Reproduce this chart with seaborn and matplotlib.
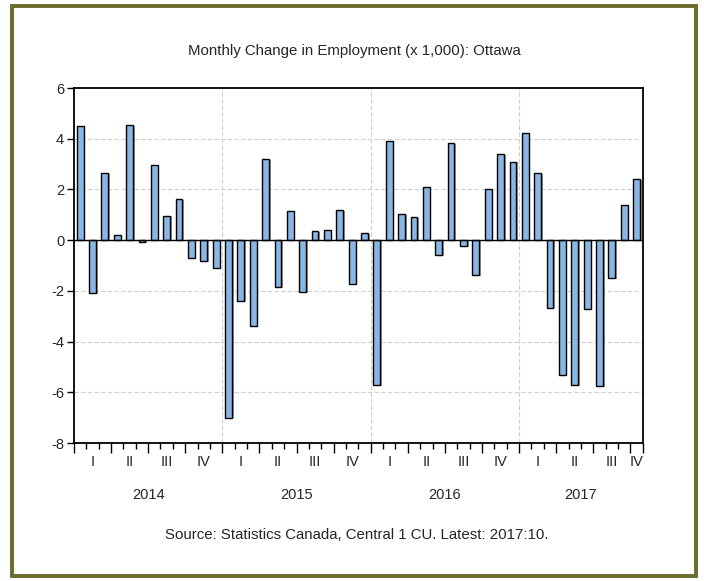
import matplotlib
matplotlib.use('Agg')
import matplotlib.pyplot as plt
import matplotlib.patheffects as pe
import matplotlib.transforms as mtransforms
from matplotlib.patches import Rectangle
import seaborn as sns
import pandas as pd
import numpy as np

# monthly change in employment, 2014:01 .. 2017:10 (thousands)
years = ['2014', '2015', '2016', '2017']
months_per_year = [12, 12, 12, 10]
quarters = ['I', 'II', 'III', 'IV']
change_2014 = [4.5, -2.1, 2.65, 0.2, 4.55, -0.07, 2.95, 0.97, 1.62, -0.69, -0.82, -1.08]
change_2015 = [-7.0, -2.4, -3.38, 3.2, -1.84, 1.15, -2.04, 0.37, 0.42, 1.19, -1.71, 0.29]
change_2016 = [-5.71, 3.92, 1.03, 0.92, 2.1, -0.59, 3.82, -0.22, -1.39, 2.01, 3.41, 3.1]
change_2017 = [4.24, 2.65, -2.66, -5.33, -5.71, -2.71, -5.76, -1.5, 1.39, 2.41]

values = change_2014 + change_2015 + change_2016 + change_2017
df = pd.DataFrame({'month': range(len(values)), 'change': values})

sns.set_style('white')
plt.rcParams['font.family'] = ['Liberation Sans', 'DejaVu Sans']
plt.rcParams['axes.unicode_minus'] = False

fig = plt.figure(figsize=(7.04, 5.81), dpi=100)
ax = fig.add_axes([0.105, 0.2375, 0.808, 0.611])

sns.barplot(data=df, x='month', y='change', color='#8ab6e4', saturation=1,
            width=0.55, edgecolor='black', linewidth=1.0, ax=ax)
for p in ax.patches:
    p.set_path_effects([pe.SimplePatchShadow(offset=(1.2, -0.6), shadow_rgbFace='#555555', alpha=0.6),
                        pe.Normal()])

n = len(values)
ax.set_xlim(-0.5, n - 0.5)
ax.set_ylim(-8, 6)
ax.set_yticks(range(-8, 7, 2))
ax.set_xlabel('')
ax.set_ylabel('')

# grid: horizontal dashed at y ticks, vertical dashed at year boundaries
for yv in range(-6, 6, 2):
    if yv != 0:
        ax.axhline(yv, color='#d0d0d0', linestyle=(0, (4, 2)), linewidth=0.8, zorder=0)
bounds = np.cumsum(months_per_year)
for b in bounds[:-1]:
    ax.axvline(b - 0.5, color='#d0d0d0', linestyle=(0, (4, 2)), linewidth=0.8, zorder=0)
ax.axhline(0, color='black', linewidth=1.0, zorder=3)

# ticks at every month boundary, longer at quarter boundaries
edges = np.arange(n + 1) - 0.5
start = np.concatenate([[0], bounds[:-1]])
major = []
for s, m in zip(start, months_per_year):
    major += [s + k - 0.5 for k in range(0, m, 3)]
major.append(n - 0.5)
minor = [e for e in edges if e not in major]
ax.set_xticks(major)
ax.set_xticks(minor, minor=True)
ax.set_xticklabels([])
ax.tick_params(axis='x', which='major', direction='out', length=7, width=1, color='black', bottom=True)
ax.tick_params(axis='x', which='minor', direction='out', length=4, width=1, color='black', bottom=True)
ax.tick_params(axis='y', direction='out', length=5, width=1, color='black', left=True, labelsize=10.5, pad=2)

trans = mtransforms.blended_transform_factory(ax.transData, ax.transAxes)
for s, m, yr in zip(start, months_per_year, years):
    for qi, q in enumerate(quarters):
        first = 3 * qi
        if first >= m:
            break
        last = min(first + 2, m - 1)
        ax.text(s + (first + last) / 2, -0.054, q, transform=trans,
                ha='center', va='center', fontsize=10.5)
    ax.text(s + (m - 1) / 2, -0.146, yr, transform=trans, ha='center', va='center', fontsize=10.5)

for sp in ax.spines.values():
    sp.set_visible(True)
    sp.set_color('black')
    sp.set_linewidth(1.3)

fig.text(0.503, 0.913, 'Monthly Change in Employment (x 1,000): Ottawa', ha='center', va='center', fontsize=10.8)
fig.text(0.507, 0.079, 'Source: Statistics Canada, Central 1 CU. Latest: 2017:10.', ha='center', va='center', fontsize=10.8)

# olive frame around the whole picture
fig.patches.append(Rectangle((12 / 704, 5 / 581), 684 / 704, 570 / 581, transform=fig.transFigure,
                             fill=False, edgecolor='#6b6b2c', linewidth=2.8))

fig.savefig('out.png', dpi=100)
